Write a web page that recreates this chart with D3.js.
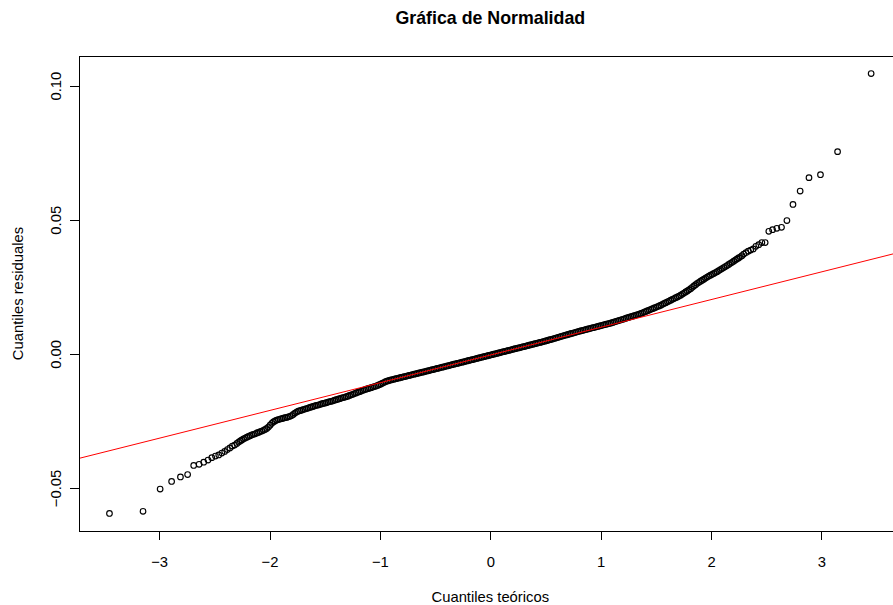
<!DOCTYPE html>
<html>
<head>
<meta charset="utf-8">
<script src="https://cdn.jsdelivr.net/npm/d3@7"></script>
<style>
  html, body { margin: 0; padding: 0; background: #fff; }
  svg { display: block; font-family: "Liberation Sans", Arial, sans-serif; }
</style>
</head>
<body>
<svg id="chart" width="893" height="605"></svg>
<script>
// Gráfico Q-Q normal de los residuos del modelo.

// Cola inferior: cuantiles teóricos y residuos ordenados
const qColaInferior = [-3.450,-3.146,-2.991,-2.887,-2.807,-2.742,-2.687,-2.638,-2.596,-2.557,
  -2.523,-2.490,-2.460,-2.432,-2.406,-2.382,-2.359,-2.337,-2.316,-2.296];
const rColaInferior = [-0.0595,-0.0587,-0.0504,-0.0476,-0.0459,-0.0450,-0.0416,-0.0412,-0.0404,-0.0396,
  -0.0387,-0.0381,-0.0377,-0.0370,-0.0364,-0.0357,-0.0351,-0.0344,-0.0340,-0.0334];

// Tramo izquierdo de la nube densa
const qTramoIzquierdo = [
  -2.280,-2.265,-2.250,-2.235,-2.220,-2.205,-2.190,-2.175,-2.160,-2.145,
  -2.130,-2.115,-2.100,-2.085,-2.070,-2.055,-2.040,-2.025,-2.010,-1.995,
  -1.980,-1.965,-1.950,-1.935,-1.920,-1.905,-1.890,-1.875,-1.860,-1.845,
  -1.830,-1.815,-1.800,-1.785,-1.770,-1.755,-1.740,-1.725,-1.710,-1.695,
  -1.680,-1.665,-1.650,-1.635,-1.620,-1.605,-1.590,-1.575,-1.560,-1.545,
  -1.530,-1.515,-1.500,-1.485,-1.470,-1.455,-1.440,-1.425,-1.410,-1.395,
  -1.380,-1.365,-1.350,-1.335,-1.320,-1.305,-1.290,-1.275,-1.260,-1.245,
  -1.230,-1.215,-1.200,-1.185,-1.170,-1.155,-1.140,-1.125,-1.110,-1.095,
  -1.080,-1.065,-1.050,-1.035,-1.020,-1.005,-0.990,-0.975,-0.960];
const rTramoIzquierdo = [
  -0.0329,-0.0325,-0.0321,-0.0317,-0.0314,-0.0311,-0.0308,-0.0305,-0.0302,-0.0300,
  -0.0298,-0.0295,-0.0293,-0.0290,-0.0288,-0.0285,-0.0282,-0.0278,-0.0273,-0.0266,
  -0.0259,-0.0254,-0.0250,-0.0247,-0.0245,-0.0243,-0.0242,-0.0240,-0.0238,-0.0237,
  -0.0235,-0.0233,-0.0230,-0.0226,-0.0221,-0.0217,-0.0214,-0.0212,-0.0210,-0.0208,
  -0.0206,-0.0204,-0.0202,-0.0200,-0.0198,-0.0196,-0.0194,-0.0192,-0.0191,-0.0189,
  -0.0187,-0.0185,-0.0184,-0.0182,-0.0180,-0.0178,-0.0177,-0.0175,-0.0173,-0.0171,
  -0.0169,-0.0167,-0.0165,-0.0163,-0.0162,-0.0160,-0.0158,-0.0155,-0.0153,-0.0151,
  -0.0148,-0.0146,-0.0143,-0.0141,-0.0139,-0.0136,-0.0134,-0.0132,-0.0130,-0.0128,
  -0.0126,-0.0124,-0.0122,-0.0120,-0.0118,-0.0115,-0.0112,-0.0109,-0.0106];

// Tramo central
const qTramoCentral = [
  -0.945,-0.930,-0.915,-0.900,-0.885,-0.870,-0.855,-0.840,-0.825,-0.810,
  -0.795,-0.780,-0.765,-0.750,-0.735,-0.720,-0.705,-0.690,-0.675,-0.660,
  -0.645,-0.630,-0.615,-0.600,-0.585,-0.570,-0.555,-0.540,-0.525,-0.510,
  -0.495,-0.480,-0.465,-0.450,-0.435,-0.420,-0.405,-0.390,-0.375,-0.360,
  -0.345,-0.330,-0.315,-0.300,-0.285,-0.270,-0.255,-0.240,-0.225,-0.210,
  -0.195,-0.180,-0.165,-0.150,-0.135,-0.120,-0.105,-0.090,-0.075,-0.060,
  -0.045,-0.030,-0.015,0.000,0.015,0.030,0.045,0.060,0.075,0.090,
  0.105,0.120,0.135,0.150,0.165,0.180,0.195,0.210,0.225,0.240,
  0.255,0.270,0.285,0.300,0.315,0.330,0.345,0.360,0.375,0.390,
  0.405,0.420,0.435,0.450,0.465,0.480,0.495];
const rTramoCentral = [
  -0.01030,-0.01010,-0.00992,-0.00975,-0.00958,-0.00943,-0.00928,-0.00912,-0.00897,-0.00882,
  -0.00867,-0.00851,-0.00836,-0.00820,-0.00805,-0.00790,-0.00775,-0.00760,-0.00745,-0.00729,
  -0.00714,-0.00698,-0.00683,-0.00668,-0.00653,-0.00638,-0.00622,-0.00606,-0.00590,-0.00575,
  -0.00560,-0.00545,-0.00530,-0.00514,-0.00498,-0.00482,-0.00466,-0.00451,-0.00436,-0.00420,
  -0.00404,-0.00388,-0.00373,-0.00357,-0.00342,-0.00327,-0.00311,-0.00296,-0.00280,-0.00264,
  -0.00248,-0.00233,-0.00218,-0.00202,-0.00186,-0.00170,-0.00154,-0.00139,-0.00124,-0.00108,
  -0.00093,-0.00077,-0.00061,-0.00046,-0.00030,-0.00014,0.00002,0.00017,0.00033,0.00049,
  0.00064,0.00080,0.00096,0.00111,0.00127,0.00142,0.00158,0.00174,0.00190,0.00206,
  0.00221,0.00236,0.00252,0.00268,0.00283,0.00299,0.00315,0.00331,0.00347,0.00362,
  0.00378,0.00394,0.00410,0.00425,0.00441,0.00457,0.00473];

// Tramo derecho de la nube densa
const qTramoDerecho = [
  0.510,0.525,0.540,0.555,0.570,0.585,0.600,0.615,0.630,0.645,
  0.660,0.675,0.690,0.705,0.720,0.735,0.750,0.765,0.780,0.795,
  0.810,0.825,0.840,0.855,0.870,0.885,0.900,0.915,0.930,0.945,
  0.960,0.975,0.990,1.005,1.020,1.035,1.050,1.065,1.080,1.095,
  1.110,1.125,1.140,1.155,1.170,1.185,1.200,1.215,1.230,1.245,
  1.260,1.275,1.290,1.305,1.320,1.335,1.350,1.365,1.380,1.395,
  1.410,1.425,1.440,1.455,1.470,1.485,1.500,1.515,1.530,1.545,
  1.560,1.575,1.590,1.605,1.620,1.635,1.650,1.665,1.680,1.695,
  1.710,1.725,1.740,1.755,1.770,1.785,1.800,1.815,1.830,1.845,
  1.860,1.875,1.890,1.905,1.920,1.935,1.950,1.965,1.980,1.995,
  2.010,2.025,2.040,2.055,2.070,2.085,2.100,2.115,2.130,2.145,
  2.160,2.175,2.190,2.205,2.220,2.235,2.250,2.265,2.280];
const rTramoDerecho = [
  0.00490,0.00508,0.00526,0.00544,0.00562,0.00580,0.00599,0.00617,0.00636,0.00654,
  0.00672,0.00689,0.00707,0.00724,0.00742,0.00759,0.00777,0.00794,0.00812,0.00829,
  0.00847,0.00863,0.00879,0.00895,0.00911,0.00927,0.00943,0.00959,0.00975,0.00991,
  0.01007,0.01023,0.01039,0.01055,0.01072,0.01088,0.01104,0.01120,0.01136,0.01154,
  0.01173,0.01193,0.01212,0.01231,0.01251,0.01270,0.01289,0.01308,0.01328,0.01347,
  0.01366,0.01386,0.01405,0.01424,0.01444,0.01463,0.01482,0.01505,0.01531,0.01557,
  0.01582,0.01608,0.01634,0.01660,0.01685,0.01711,0.01737,0.01762,0.01788,0.01816,
  0.01847,0.01878,0.01908,0.01939,0.01970,0.02000,0.02031,0.02062,0.02092,0.02123,
  0.02154,0.02188,0.02228,0.02268,0.02307,0.02347,0.02386,0.02430,0.02480,0.02530,
  0.02580,0.02628,0.02667,0.02707,0.02747,0.02786,0.02826,0.02864,0.02898,0.02931,
  0.02964,0.02998,0.03031,0.03065,0.03103,0.03141,0.03179,0.03217,0.03255,0.03293,
  0.03333,0.03374,0.03414,0.03455,0.03496,0.03537,0.03578,0.03619,0.03660];

// Cola superior
const qColaSuperior = [2.296,2.316,2.337,2.359,2.382,2.406,2.432,2.460,2.490,2.523,
  2.557,2.596,2.638,2.687,2.742,2.807,2.887,2.991,3.146,3.450];
const rColaSuperior = [0.0372,0.0377,0.0383,0.0387,0.0391,0.0401,0.0407,0.0415,0.0415,0.0457,
  0.0463,0.0468,0.0472,0.0497,0.0557,0.0607,0.0657,0.0668,0.0754,0.1045];

// Recta de referencia (qqline): ordenada en el origen y pendiente
const qqIntercepto = -0.00046;
const qqPendiente = 0.010339;

// Marcas de los ejes
const ticksX = [-3, -2, -1, 0, 1, 2, 3];
const ticksY = [-0.05, 0.00, 0.05, 0.10];

const titulo = "Gráfica de Normalidad";
const tituloX = "Cuantiles teóricos";
const tituloY = "Cuantiles residuales";

// ---- dibujo ----
const teoricos = [].concat(qColaInferior, qTramoIzquierdo, qTramoCentral, qTramoDerecho, qColaSuperior);
const residuos = [].concat(rColaInferior, rTramoIzquierdo, rTramoCentral, rTramoDerecho, rColaSuperior);
const puntos = teoricos.map((q, i) => ({ q, r: residuos[i] }));

const svg = d3.select("#chart");
const area = { left: 79, top: 56, right: 901.6, bottom: 531 };
const fontBase = 14.8;

// dominio extendido un 4% como en los gráficos base de R
function extender([a, b]) { const d = (b - a) * 0.04; return [a - d, b + d]; }
const x = d3.scaleLinear().domain(extender(d3.extent(teoricos))).range([area.left, area.right]);
const y = d3.scaleLinear().domain(extender(d3.extent(residuos))).range([area.bottom, area.top]);

svg.append("defs").append("clipPath").attr("id", "recorte")
  .append("rect")
  .attr("x", area.left).attr("y", area.top)
  .attr("width", area.right - area.left).attr("height", area.bottom - area.top);

// puntos
svg.append("g")
  .selectAll("circle")
  .data(puntos)
  .join("circle")
  .attr("cx", d => x(d.q))
  .attr("cy", d => y(d.r))
  .attr("r", 2.8)
  .attr("fill", "none")
  .attr("stroke", "#000")
  .attr("stroke-width", 1.15);

// recta qqline
const [x0, x1] = x.domain();
svg.append("path")
  .attr("clip-path", "url(#recorte)")
  .attr("d", d3.line().x(d => x(d)).y(d => y(qqIntercepto + qqPendiente * d))([x0, x1]))
  .attr("fill", "none")
  .attr("stroke", "#ff0000")
  .attr("stroke-width", 1);

// caja
svg.append("rect")
  .attr("x", area.left).attr("y", area.top)
  .attr("width", area.right - area.left).attr("height", area.bottom - area.top)
  .attr("fill", "none").attr("stroke", "#000").attr("stroke-width", 1)
  .attr("shape-rendering", "crispEdges");

// eje X
const ejeX = svg.append("g")
  .attr("transform", `translate(0,${area.bottom})`)
  .call(d3.axisBottom(x).tickValues(ticksX).tickFormat(d3.format("d")).tickSize(9).tickPadding(16));
ejeX.select(".domain").remove();
ejeX.selectAll(".tick line").attr("stroke", "#000").attr("shape-rendering", "crispEdges");
ejeX.selectAll(".tick text").attr("font-size", fontBase).attr("fill", "#000")
  .attr("font-family", "'Liberation Sans', Arial, sans-serif");

// eje Y (etiquetas paralelas al eje)
const ejeY = svg.append("g")
  .attr("transform", `translate(${area.left},0)`)
  .call(d3.axisLeft(y).tickValues(ticksY).tickFormat(d3.format(".2f")).tickSize(9));
ejeY.select(".domain").remove();
ejeY.selectAll(".tick line").attr("stroke", "#000").attr("shape-rendering", "crispEdges");
ejeY.selectAll(".tick text")
  .attr("font-size", fontBase).attr("fill", "#000")
  .attr("font-family", "'Liberation Sans', Arial, sans-serif")
  .attr("transform", "rotate(-90)")
  .attr("x", 0).attr("y", -18).attr("dy", 0)
  .attr("text-anchor", "middle");

// títulos
const cx = (area.left + area.right) / 2;
svg.append("text")
  .attr("x", cx).attr("y", 24)
  .attr("text-anchor", "middle")
  .attr("font-size", 17.8).attr("font-weight", "bold")
  .text(titulo);

svg.append("text")
  .attr("x", cx).attr("y", 602)
  .attr("text-anchor", "middle")
  .attr("font-size", fontBase)
  .text(tituloX);

svg.append("text")
  .attr("transform", `translate(23,${(area.top + area.bottom) / 2}) rotate(-90)`)
  .attr("text-anchor", "middle")
  .attr("font-size", fontBase)
  .text(tituloY);
</script>
</body>
</html>
